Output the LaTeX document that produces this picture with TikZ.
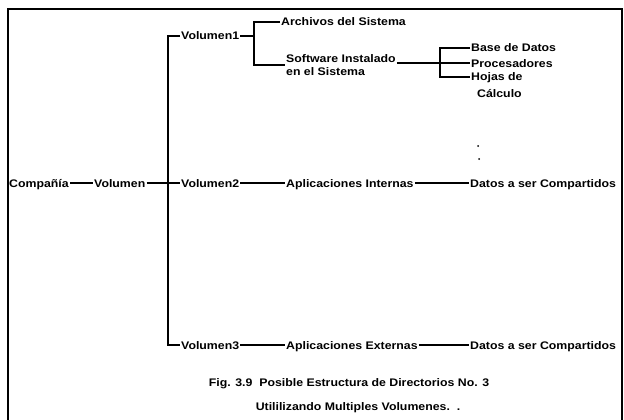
\documentclass[tikz,border=0pt]{standalone}
\usepackage{fontspec}
\setmainfont[FakeStretch=1.12]{Liberation Sans}
\begin{document}
\begin{tikzpicture}[x=1pt,y=-1pt,
  lbl/.style={font=\bfseries\fontsize{11}{13}\selectfont, inner sep=1pt, anchor=west,
              text height=8pt, text depth=0pt},
  twoline/.style={font=\bfseries\fontsize{11}{13.5}\selectfont, inner sep=1pt, anchor=west, align=left},
  caption/.style={font=\bfseries\fontsize{11}{13}\selectfont, inner sep=0pt},
  conn/.style={line width=1.2pt},
  trunkline/.style={line width=1.8pt},
  frameline/.style={line width=1.8pt}]
\useasboundingbox (0,0) rectangle (624,420);

% open frame: top, left and right sides
\draw[frameline] (8,420) -- (8,9) -- (622,9) -- (622,420);

% root and first level
\node[lbl] (comp) at (8,183) {Compañía};
\node[lbl] (vol)  at (93,183) {Volumen};

% volumes along the trunk
\coordinate (trunkTop) at (168,36);
\coordinate (trunkBot) at (168,345);
\node[lbl] (v1) at (180,36)  {Volumen1};
\node[lbl] (v2) at (180,183) {Volumen2};
\node[lbl] (v3) at (180,345) {Volumen3};

% Volumen1 branch
\coordinate (b1top) at (254,22);
\coordinate (b1bot) at (254,65);
\node[lbl] (arch) at (280,22) {Archivos del Sistema};
\node[twoline] (soft) at (285,65) {Software Instalado\\en el Sistema};

% software subtree
\coordinate (b2top) at (440,48);
\coordinate (b2bot) at (440,77);
\node[lbl] (base)  at (470,48) {Base de Datos};
\node[lbl] (proc)  at (470,63) {Procesadores};
\node[lbl] (hojas) at (470,77) {Hojas de};
\node[lbl] (calc)  at (476,93) {Cálculo};

% Volumen2 branch
\node[lbl] (apint)  at (285,183) {Aplicaciones Internas};
\node[lbl] (datos2) at (469,183) {Datos a ser Compartidos};

% Volumen3 branch
\node[lbl] (apext)  at (285,345) {Aplicaciones Externas};
\node[lbl] (datos3) at (469,345) {Datos a ser Compartidos};

% connectors
\draw[conn] (comp) -- (vol);
\draw[conn] (vol) -- (v2);
\draw[trunkline] (v1.west) -- (trunkTop) -- (trunkBot) -- (v3.west);
\draw[conn] (v1.east) -- (v1.east -| b1top);
\draw[conn] (arch.west) -- (b1top) -- (b1bot) -- (soft.west);
\draw[conn] (soft.east |- proc.west) -- (proc.west);
\draw[conn] (base.west) -- (b2top) -- (b2bot) -- (hojas.west);
\draw[conn] (v2) -- (apint);
\draw[conn] (apint) -- (datos2);
\draw[conn] (v3) -- (apext);
\draw[conn] (apext) -- (datos3);

% continuation marks
\fill (478,146) circle (1);
\fill (479,159) circle (1);

% caption
\node[caption] (cap1) at (349,384) {Fig. 3.9\ \ Posible Estructura de Directorios No. 3};
\node[caption] (cap2) at (358,408) {Utililizando Multiples Volumenes.\ \ .};
\end{tikzpicture}
\end{document}
